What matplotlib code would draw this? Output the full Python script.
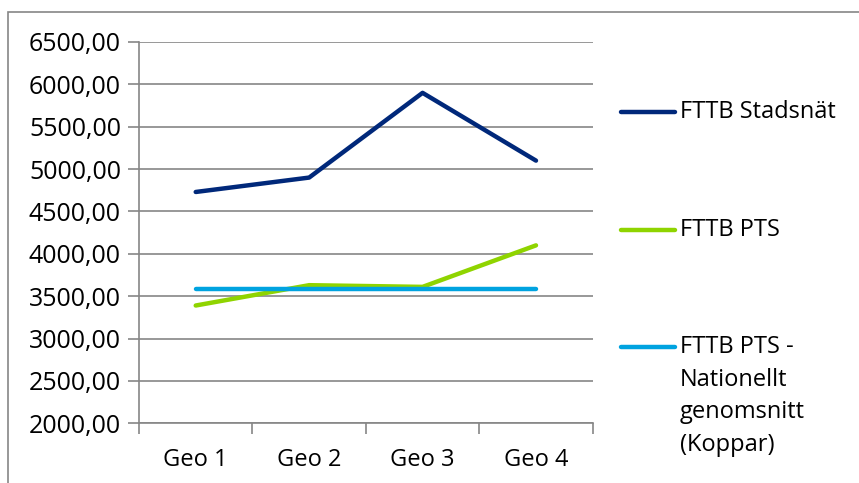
import matplotlib
matplotlib.use("Agg")
import matplotlib.pyplot as plt
from matplotlib.lines import Line2D
from matplotlib.patches import Rectangle

plt.rcParams['font.family'] = ['Open Sans', 'DejaVu Sans']

categories = ["Geo 1", "Geo 2", "Geo 3", "Geo 4"]
stadsnat = [4730, 4900, 5900, 5100]
pts = [3390, 3630, 3610, 4100]
nationellt = [3590, 3590, 3590, 3590]

series_labels = ["FTTB Stadsnät", "FTTB PTS", "FTTB PTS -\nNationellt\ngenomsnitt\n(Koppar)"]
series_colors = ["#00287a", "#8fd400", "#00a3e0"]
y_ticks = [2000, 2500, 3000, 3500, 4000, 4500, 5000, 5500, 6000, 6500]

FS = 17
W, H = 859, 483
fig = plt.figure(figsize=(W / 100, H / 100), dpi=100)

# outer chart frame (only top/left edges fall inside the canvas)
fig.patches.append(Rectangle((8 / W, -0.1), 1.2, (H - 12) / H + 0.1,
                             transform=fig.transFigure, fill=False,
                             edgecolor="#868686", linewidth=1.2))

ax = fig.add_axes([139 / W, (H - 423.3) / H, (592.7 - 139) / W, (423.3 - 42) / H])

x = list(range(len(categories)))
for vals, col in zip([stadsnat, pts, nationellt], series_colors):
    ax.plot(x, vals, color=col, linewidth=3.2, solid_capstyle="round",
            solid_joinstyle="round", zorder=3)

ax.set_xlim(-0.5, len(categories) - 0.5)
ax.set_ylim(2000, 6500)
ax.set_yticks(y_ticks)
ax.set_yticklabels([f"{v},00" for v in y_ticks], fontsize=18)
ax.yaxis.grid(True, color="#868686", linewidth=1.2)
ax.set_axisbelow(True)

# category labels centered; tick marks on category boundaries
ax.set_xticks([i - 0.5 for i in range(len(categories) + 1)])
ax.set_xticklabels([])
ax.set_xticks(x, minor=True)
ax.set_xticklabels(categories, minor=True, fontsize=FS)
ax.tick_params(axis="x", which="minor", length=0, pad=18)
ax.tick_params(axis="x", which="major", length=8, color="#868686", width=1.2, direction="out")
ax.tick_params(axis="y", length=8, color="#868686", width=1.2, pad=5)

for side in ["top", "right"]:
    ax.spines[side].set_visible(False)
for side in ["left", "bottom"]:
    ax.spines[side].set_color("#868686")
    ax.spines[side].set_linewidth(1.2)

# legend drawn at fixed figure positions
legend_y = [111.7, 230, 347]
for lab, col, yp in zip(series_labels, series_colors, legend_y):
    fy = (H - yp) / H
    fig.add_artist(Line2D([621 / W, 675 / W], [fy, fy], transform=fig.transFigure,
                          color=col, linewidth=3.2, solid_capstyle="round"))
    for k, ln in enumerate(lab.split("\n")):
        fig.text(680 / W, (H - (yp + 32.7 * k)) / H, ln, fontsize=FS,
                 va="center", ha="left")

fig.savefig("out.png", dpi=100)
